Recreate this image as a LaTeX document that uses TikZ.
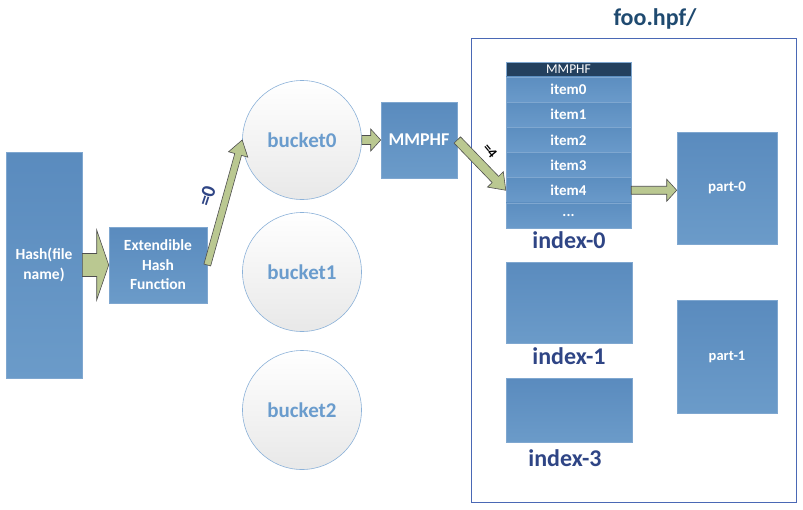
\documentclass[tikz,border=0pt]{standalone}
\usepackage{fontspec}
\setmainfont{Carlito}
\usetikzlibrary{calc}
\definecolor{boxtop}{HTML}{5A8BBE}
\definecolor{boxbot}{HTML}{6B9BC9}
\definecolor{boxline}{HTML}{7FA7D0}
\definecolor{arrfill}{HTML}{BAC891}
\definecolor{arrline}{HTML}{4F4F4F}
\definecolor{navy}{HTML}{2F4585}
\definecolor{dirblue}{HTML}{1F4A70}
\definecolor{framec}{HTML}{4A68B5}
\definecolor{bucktext}{HTML}{6A9CCD}
\definecolor{circline}{HTML}{8CB2D9}
\definecolor{headfill}{HTML}{23405E}
\definecolor{rowtop}{HTML}{5C8EC0}
\definecolor{rowbot}{HTML}{6A9ACA}
\tikzset{
  bluebox/.style={draw=boxline, line width=0.6pt, top color=boxtop, bottom color=boxbot,
    text=white, font=\bfseries\fontsize{15.5}{19.5}\selectfont, align=center, inner sep=0pt},
  rowbox/.style={draw=boxline, line width=0.4pt, top color=rowtop, bottom color=rowbot,
    text=white, font=\bfseries\fontsize{15}{17}\selectfont, inner sep=0pt,
    minimum width=125pt, minimum height=25.17pt},
  bucket/.style={circle, draw=circline, line width=0.6pt, top color=white, bottom color=black!9,
    text=bucktext, font=\bfseries\fontsize{21}{24}\selectfont, minimum size=119pt, inner sep=0pt},
  idxlabel/.style={text=navy, font=\bfseries\fontsize{24}{28}\selectfont, inner sep=0pt},
  barrow/.style={draw=arrline, fill=arrfill, line width=0.6pt, line join=miter},
}
\newcommand\blockarrow[5]{%
  \draw[barrow] let \p1=(#1), \p2=(#2),
    \n1={atan2(\y2-\y1,\x2-\x1)}, \n2={veclen(\x2-\x1,\y2-\y1)} in
    ($(\p1)+(\n1+90:#3)$) --
    ($(\p1)+(\n1:\n2-#5)+(\n1+90:#3)$) --
    ($(\p1)+(\n1:\n2-#5)+(\n1+90:#4)$) --
    (\p2) --
    ($(\p1)+(\n1:\n2-#5)+(\n1-90:#4)$) --
    ($(\p1)+(\n1:\n2-#5)+(\n1-90:#3)$) --
    ($(\p1)+(\n1-90:#3)$) -- cycle;}
\begin{document}
\begin{tikzpicture}[x=1pt,y=-1pt]
\useasboundingbox[fill=white] (0,0) rectangle (803,509);
% frame
\draw[framec, line width=1pt] (471.5,38) rectangle (796.5,502);
\node[text=dirblue, font=\bfseries\fontsize{24}{28}\selectfont] (dir) at (655,19) {foo.hpf/};
% left side
\node[bluebox, minimum width=76pt, minimum height=226pt] (hash) at (44,265) {Hash(file\\name)};
\node[bluebox, minimum width=98pt, minimum height=76pt] (ext) at (158,265) {Extendible\\Hash\\Function};
\node[bucket] (b0) at (302,140) {bucket0};
\node[bucket] (b1) at (302,272) {bucket1};
\node[bucket] (b2) at (302,410) {bucket2};
\node[bluebox, font=\bfseries\fontsize{18}{20}\selectfont, minimum width=76pt, minimum height=76pt] (mm) at (419,140) {MMPHF};
% index-0 table
\node[draw=boxline, line width=0.4pt, fill=headfill, text=white, font=\fontsize{13.5}{14}\selectfont,
  minimum width=125pt, minimum height=15pt, inner sep=0pt] (hdr) at (568.5,69.5) {MMPHF};
\node[rowbox] (r0) at (568.5,89.58) {item0};
\node[rowbox] (r1) at (568.5,114.75) {item1};
\node[rowbox] (r2) at (568.5,139.92) {item2};
\node[rowbox] (r3) at (568.5,165.08) {item3};
\node[rowbox] (r4) at (568.5,190.25) {item4};
\node[rowbox] (r5) at (568.5,215.42) {...};
\node[idxlabel] (l0) at (569,240) {index-0};
\node[bluebox, minimum width=126pt, minimum height=81pt] (i1) at (569,302.5) {};
\node[idxlabel] (l1) at (569,356) {index-1};
\node[bluebox, minimum width=126pt, minimum height=64pt] (i3) at (569,410) {};
\node[idxlabel] (l3) at (565,458) {index-3};
\node[bluebox, font=\bfseries\fontsize{15}{17}\selectfont, minimum width=100pt, minimum height=112pt] (p0) at (727,188) {part-0};
\node[bluebox, font=\bfseries\fontsize{14.5}{16}\selectfont, minimum width=100pt, minimum height=113pt] (p1) at (727,356.5) {part-1};
% arrows
\blockarrow{hash.east}{ext.west}{11.5pt}{35pt}{12pt}
\blockarrow{ext.east}{b0.west}{3.5pt}{10pt}{15pt}
\blockarrow{b0.east}{mm.west}{4.5pt}{11pt}{10pt}
\blockarrow{mm.east}{r4.west}{4.5pt}{11pt}{15pt}
\coordinate (p0in) at (r4.east -| p0.west);
\blockarrow{r4.east}{p0in}{4pt}{11pt}{10pt}
% labels
\node[text=navy, font=\bfseries\fontsize{20}{22}\selectfont, rotate=72, inner sep=0pt] (eq0) at (207,196) {=0};
\node[text=black, font=\bfseries\fontsize{14}{16}\selectfont, rotate=-50, inner sep=0pt] (eq4) at (490,151) {=4};
\end{tikzpicture}
\end{document}
